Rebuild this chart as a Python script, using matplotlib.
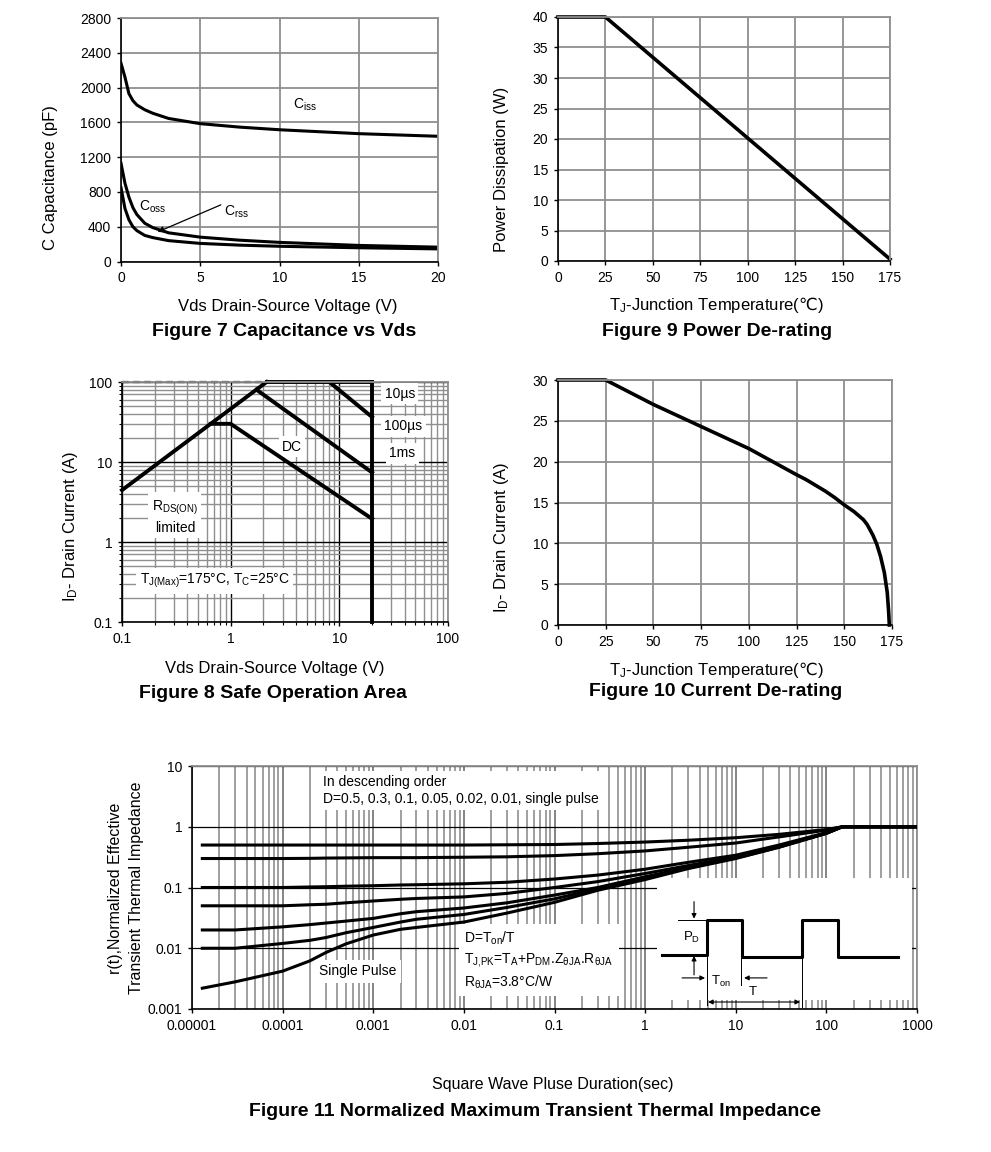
"""Datasheet style characteristic curves: figures 7 to 11."""
import numpy as np
import matplotlib
matplotlib.use('Agg')
import matplotlib.pyplot as plt
from matplotlib.ticker import LogLocator, NullLocator, NullFormatter
from matplotlib.patches import Rectangle

plt.rcParams['font.family'] = ['Liberation Sans', 'DejaVu Sans']
plt.rcParams['mathtext.default'] = 'regular'
plt.rcParams['mathtext.fontset'] = 'custom'
plt.rcParams['mathtext.rm'] = 'DejaVu Sans'

GRID = '#8f8f8f'

# ---------------- data ----------------
# Figure 7: capacitance vs Vds
vds = [0, 0.25, 0.5, 0.75, 1, 1.5, 2, 3, 5, 7.5, 10, 15, 20]
ciss = [2280, 2120, 1930, 1850, 1800, 1745, 1705, 1645, 1585, 1545, 1515, 1470, 1440]
coss = [1130, 900, 740, 620, 540, 440, 390, 330, 280, 245, 220, 185, 165]
crss = [850, 610, 480, 400, 355, 300, 275, 240, 208, 188, 175, 158, 145]

# Figure 9: power de-rating
tj_p = [0, 25, 175]
pd_w = [40, 40, 0.3]

# Figure 8: safe operating area
rds_v = [0.1, 2.14]
rds_i = [4.45, 100]
dash_v = [0.1, 2.14]
dash_i = [100, 100]
top_v = [2.14, 20]
top_i = [100, 100]
us10_v = [8.1, 20]
us10_i = [100, 36.5]
ms1_v = [1.73, 20]
ms1_i = [80, 7.4]
dc_v = [0.655, 1.0, 20]
dc_i = [30, 30, 1.95]
vmax_v = [20, 20]
vmax_i = [0.1, 100]

# Figure 10: current de-rating
tj_i = [0, 25, 50, 75, 100, 125, 130, 135, 140, 145, 150, 155, 158, 160, 162,
        165, 167, 169, 171, 172.5, 173.2, 173.6]
id_a = [30, 30, 27, 24.3, 21.6, 18.4, 17.8, 17.1, 16.4, 15.6, 14.7, 13.9, 13.3, 12.9, 12.3,
        11.0, 9.9, 8.4, 6.4, 4.0, 1.8, 0]

# Figure 11: transient thermal impedance
t_sec = [1.3e-5, 3e-5, 1e-4, 2e-4, 3e-4, 5e-4, 1e-3, 2e-3, 3e-3, 1e-2, 3e-2, 0.1, 0.3,
         1, 3, 10, 30, 100, 150, 1000]
r_d50 = [0.5, 0.5, 0.5, 0.5, 0.5, 0.5, 0.5, 0.5, 0.5, 0.5, 0.505, 0.51, 0.53,
         0.56, 0.6, 0.66, 0.75, 0.9, 1.0, 1.0]
r_d30 = [0.3, 0.3, 0.3, 0.302, 0.305, 0.307, 0.31, 0.31, 0.31, 0.315, 0.32, 0.335, 0.36,
         0.4, 0.46, 0.54, 0.68, 0.88, 1.0, 1.0]
r_d10 = [0.1, 0.1, 0.1, 0.102, 0.103, 0.105, 0.107, 0.11, 0.111, 0.115, 0.122, 0.138, 0.16,
         0.2, 0.26, 0.34, 0.5, 0.8, 1.0, 1.0]
r_d05 = [0.05, 0.05, 0.05, 0.052, 0.053, 0.056, 0.06, 0.064, 0.066, 0.07, 0.08, 0.1, 0.125,
         0.17, 0.23, 0.32, 0.48, 0.79, 1.0, 1.0]
r_d02 = [0.02, 0.02, 0.0225, 0.0245, 0.026, 0.028, 0.031, 0.037, 0.04, 0.046, 0.056, 0.075, 0.1,
         0.15, 0.215, 0.31, 0.47, 0.78, 1.0, 1.0]
r_d01 = [0.01, 0.01, 0.012, 0.0135, 0.015, 0.018, 0.022, 0.027, 0.03, 0.036, 0.047, 0.065, 0.095,
         0.145, 0.21, 0.305, 0.46, 0.78, 1.0, 1.0]
r_sp = [0.0022, 0.0028, 0.0042, 0.0062, 0.0085, 0.0118, 0.0165, 0.0205, 0.022, 0.027, 0.038,
        0.057, 0.09, 0.135, 0.205, 0.3, 0.46, 0.78, 1.0, 1.0]
t_ticks = [1e-5, 1e-4, 1e-3, 1e-2, 1e-1, 1, 10, 100, 1000]
t_labels = ['0.00001', '0.0001', '0.001', '0.01', '0.1', '1', '10', '100', '1000']
r_ticks = [1e-3, 1e-2, 1e-1, 1, 10]
r_labels = ['0.001', '0.01', '0.1', '1', '10']

# pulse sketch (inset units)
pulse_x = [14, 59, 59, 94, 94, 154, 154, 190, 190, 250]
pulse_y = [77, 77, 42, 42, 79, 79, 42, 42, 79, 79]

W, H = 991, 1152
fig = plt.figure(figsize=(W / 100, H / 100), dpi=100)


def px_axes(l, t, r, b):
    return fig.add_axes([l / W, 1 - b / H, (r - l) / W, (b - t) / H])


def style(ax, fs=10):
    ax.set_axisbelow(True)
    ax.tick_params(direction='out', length=3, width=1, labelsize=fs, pad=4)
    for s in ['left', 'bottom']:
        ax.spines[s].set_color('k')
        ax.spines[s].set_linewidth(1.2)
    for s in ['top', 'right']:
        ax.spines[s].set_color(GRID)
        ax.spines[s].set_linewidth(1.3)


def labels(ax, xl, yl, xc, yc, box, fs=12, ls=1.2):
    l, t, r, b = box
    ax.set_xlabel(xl, fontsize=fs, va='center')
    ax.set_ylabel(yl, fontsize=fs, va='center', linespacing=ls)
    ax.xaxis.set_label_coords((xc[0] - l) / (r - l), (b - xc[1]) / (b - t))
    ax.yaxis.set_label_coords((yc[0] - l) / (r - l), (b - yc[1]) / (b - t))


def caption(text, x, y):
    fig.text(x / W, 1 - y / H, text, ha='center', va='center',
             fontsize=14, fontweight='bold')


TJ_LABEL = r'T$_J$-Junction Temperature($\mathrm{℃}$)'

# ---------------- Figure 7 ----------------
box7 = (121, 18, 438, 261.5)
ax7 = px_axes(*box7)
style(ax7)
ax7.grid(True, color=GRID, lw=1.3)
ax7.plot(vds, ciss, 'k', lw=2.2)
ax7.plot(vds, coss, 'k', lw=2.2)
ax7.plot(vds, crss, 'k', lw=2.2)
ax7.set_xlim(0, 20)
ax7.set_ylim(0, 2800)
ax7.set_xticks([0, 5, 10, 15, 20])
ax7.set_yticks(np.arange(0, 2801, 400))
ax7.text(11.6, 1800, 'C$_{iss}$', fontsize=10, ha='center', va='center')
ax7.text(2.0, 627, 'C$_{oss}$', fontsize=10, ha='center', va='center')
ax7.text(7.3, 570, 'C$_{rss}$', fontsize=10, ha='center', va='center')
ax7.annotate('', xy=(2.15, 327), xytext=(6.46, 664),
             arrowprops=dict(arrowstyle='-|>', color='k', lw=0.9, mutation_scale=9))
labels(ax7, 'Vds Drain-Source Voltage (V)', 'C Capacitance (pF)',
       (287.7, 306), (51, 178), box7)
caption('Figure 7 Capacitance vs Vds', 284, 331)

# ---------------- Figure 9 ----------------
box9 = (558, 17, 890, 261)
ax9 = px_axes(*box9)
style(ax9)
ax9.grid(True, color=GRID, lw=1.3)
ax9.plot(tj_p, pd_w, 'k', lw=2.6, clip_on=False)
ax9.set_xlim(0, 175)
ax9.set_ylim(0, 40)
ax9.set_xticks(np.arange(0, 176, 25))
ax9.set_yticks(np.arange(0, 41, 5))
labels(ax9, TJ_LABEL, 'Power Dissipation (W)', (716.7, 305), (501.7, 169), box9)
caption('Figure 9 Power De-rating', 716.7, 331)

# ---------------- Figure 8 ----------------
box8 = (122, 382, 448, 622)
ax8 = px_axes(*box8)
style(ax8, fs=10)
ax8.set_xscale('log')
ax8.set_yscale('log')
ax8.set_xlim(0.1, 100)
ax8.set_ylim(0.1, 100)
for axis in (ax8.xaxis, ax8.yaxis):
    axis.set_minor_locator(LogLocator(base=10, subs=np.arange(2, 10), numticks=100))
    axis.set_minor_formatter(NullFormatter())
ax8.set_xticks([0.1, 1, 10, 100], ['0.1', '1', '10', '100'])
ax8.set_yticks([0.1, 1, 10, 100], ['0.1', '1', '10', '100'])
ax8.tick_params(which='minor', direction='out', length=2.5, width=0.8)
ax8.grid(True, which='minor', color=GRID, lw=1.0)
ax8.grid(True, which='major', color='k', lw=1.0)
lw8 = 2.8
ax8.plot(dash_v, dash_i, 'k--', lw=1.6, clip_on=False, dashes=(3, 2))
ax8.plot(rds_v, rds_i, 'k', lw=lw8, clip_on=False)
ax8.plot(top_v, top_i, 'k', lw=lw8, clip_on=False)
ax8.plot(us10_v, us10_i, 'k', lw=lw8)
ax8.plot(ms1_v, ms1_i, 'k', lw=lw8)
ax8.plot(dc_v, dc_i, 'k', lw=lw8)
ax8.plot(vmax_v, vmax_i, 'k', lw=lw8, clip_on=False)
wb = dict(facecolor='white', edgecolor='none', pad=2.5)
ax8.text(36, 71, '10µs', fontsize=10, ha='center', va='center', bbox=wb, zorder=1)
ax8.text(39, 28, '100µs', fontsize=10, ha='center', va='center', bbox=wb, zorder=1)
ax8.text(38, 12.8, '1ms', fontsize=10, ha='center', va='center', bbox=wb, zorder=1)
ax8.text(3.67, 15.5, 'DC', fontsize=10, ha='center', va='center', bbox=wb, zorder=1)
ax8.text(0.307, 2.07, 'R$_{DS(ON)}$\nlimited', fontsize=10, ha='center', va='center',
         bbox=wb, zorder=1, linespacing=1.3)
ax8.text(0.715, 0.325, 'T$_{J(Max)}$=175°C, T$_C$=25°C', fontsize=10, ha='center',
         va='center', bbox=wb, zorder=1)
labels(ax8, 'Vds Drain-Source Voltage (V)', 'I$_D$- Drain Current (A)',
       (275, 669), (70, 526), box8)
caption('Figure 8 Safe Operation Area', 273, 693)

# ---------------- Figure 10 ----------------
box10 = (558, 380, 892, 625)
ax10 = px_axes(*box10)
style(ax10)
ax10.grid(True, color=GRID, lw=1.3)
ax10.plot(tj_i, id_a, 'k', lw=2.6, clip_on=False)
ax10.set_xlim(0, 175)
ax10.set_ylim(0, 30)
ax10.set_xticks(np.arange(0, 176, 25))
ax10.set_yticks(np.arange(0, 31, 5))
labels(ax10, TJ_LABEL, 'I$_D$- Drain Current (A)', (716.7, 670), (501.7, 537), box10)
caption('Figure 10 Current De-rating', 716, 692)

# ---------------- Figure 11 ----------------
box11 = (192, 766, 917, 1009)
ax11 = px_axes(*box11)
style(ax11, fs=10)
ax11.set_xscale('log')
ax11.set_yscale('log')
ax11.set_xlim(1e-5, 1000)
ax11.set_ylim(1e-3, 10)
ax11.xaxis.set_minor_locator(LogLocator(base=10, subs=np.arange(2, 10), numticks=100))
ax11.xaxis.set_minor_formatter(NullFormatter())
ax11.yaxis.set_minor_locator(NullLocator())
ax11.set_xticks(t_ticks, t_labels)
ax11.set_yticks(r_ticks, r_labels)
ax11.tick_params(which='minor', length=0)
ax11.grid(True, which='minor', axis='x', color=GRID, lw=1.2)
ax11.grid(True, which='major', axis='x', color='#6f6f6f', lw=1.2)
ax11.grid(True, which='major', axis='y', color='k', lw=0.9)
for r in (r_d50, r_d30, r_d10, r_d05, r_d02, r_d01, r_sp):
    ax11.plot(t_sec, r, 'k', lw=2.2, zorder=3)

ax11.add_patch(Rectangle((0.641, 0.037), 0.352, 0.504, transform=ax11.transAxes,
                         facecolor='white', edgecolor='none', zorder=1))
wb11 = dict(facecolor='white', edgecolor='none', pad=3)
ax11.text(2.8e-4, 3.9, 'In descending order\nD=0.5, 0.3, 0.1, 0.05, 0.02, 0.01, single pulse',
          fontsize=10, ha='left', va='center', bbox=wb11, zorder=1, linespacing=1.25)
ax11.text(6.8e-4, 0.00415, 'Single Pulse', fontsize=10, ha='center', va='center',
          bbox=wb11, zorder=1)
ax11.text(0.0101, 0.0064,
          'D=T$_{on}$/T\nT$_{J,\\!PK}$=T$_A$+P$_{DM}$.Z$_{θJA}$.R$_{θJA}$\nR$_{θJA}$=3.8°C/W',
          fontsize=10, ha='left', va='center',
          bbox=dict(facecolor='white', edgecolor='none', pad=4), zorder=1, linespacing=1.35)

# pulse sketch
ins = ax11.inset_axes([0.629, 0.004, 0.367, 0.537])
ins.set_xlim(0, 266)
ins.set_ylim(130, 0)
ins.axis('off')
ins.patch.set_alpha(0)
ins.plot(pulse_x, pulse_y, 'k', lw=2.2)
ins.plot([30, 59], [42, 42], 'k', lw=0.7)
ins.plot([59, 59], [77, 127], 'k', lw=0.7)
ins.plot([93, 93], [80, 107], 'k', lw=0.7)
ins.plot([154, 154], [79, 130], 'k', lw=0.7)
arr = dict(arrowstyle='-|>', color='k', lw=0.8, mutation_scale=7, shrinkA=0, shrinkB=0)
ins.annotate('', xy=(46, 41), xytext=(46, 24), arrowprops=arr)
ins.annotate('', xy=(46, 78), xytext=(46, 97), arrowprops=arr)
ins.annotate('', xy=(57, 100), xytext=(34, 100), arrowprops=arr)
ins.annotate('', xy=(96, 100), xytext=(119, 100), arrowprops=arr)
ins.annotate('', xy=(60, 124), xytext=(152, 124),
             arrowprops=dict(arrowstyle='<|-|>', color='k', lw=0.8, mutation_scale=7,
                             shrinkA=0, shrinkB=0))
ins.text(44, 60, 'P$_D$', fontsize=9.5, ha='center', va='center')
ins.text(73, 104, 'T$_{on}$', fontsize=9.5, ha='center', va='center')
ins.text(105, 114, 'T', fontsize=9.5, ha='center', va='center')

labels(ax11, 'Square Wave Pluse Duration(sec)',
       'r(t),Normalized Effective\nTransient Thermal Impedance',
       (553, 1085), (126, 888), box11, fs=11.5, ls=1.45)
caption('Figure 11 Normalized Maximum Transient Thermal Impedance', 535, 1112)

fig.savefig('out.png', dpi=100)
